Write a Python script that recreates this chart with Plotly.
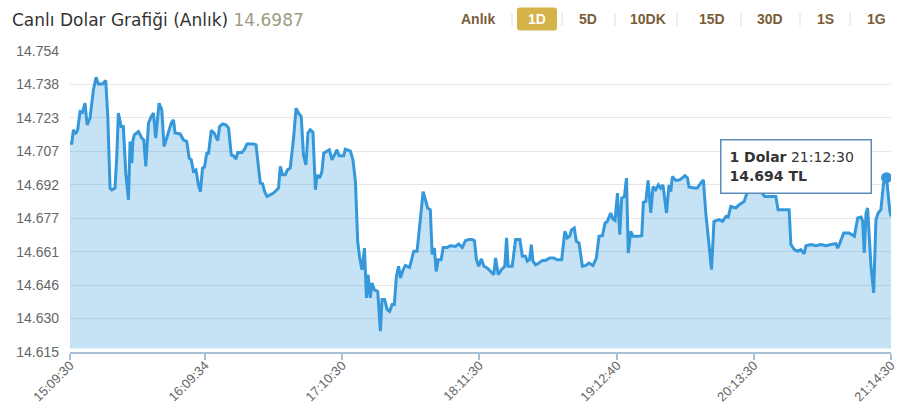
import pandas as pd
import plotly.graph_objects as go

TITLE = "Canlı Dolar Grafiği (Anlık)"
LAST_PRICE = "14.6987"
RANGE_BUTTONS = ["Anlık", "1D", "5D", "10DK", "15D", "30D", "1S", "1G"]
ACTIVE_BUTTON = "1D"

DAY = "2022-01-10"
START = DAY + " 15:09:30"

# minutes after 15:09:30
MINUTES = [
    0, 0.8, 1.5, 2.5, 3.4, 4.5, 5.5, 6.7, 7.6, 8.9,
    10.4, 11.6, 12.6, 14.4, 15.9, 16.8, 17.8, 18.6, 20.0, 20.8,
    21.5, 22.7, 23.7, 24.8, 26.0, 26.7, 27.5, 27.9, 28.6, 30.4,
    31.9, 32.8, 33.7, 34.9, 36.1, 37.1, 38.1, 39.6, 40.8, 41.8,
    43.0, 45.0, 46.0, 46.7, 49.0, 50.4, 51.9, 53.0, 53.9, 54.9,
    56.0, 57.1, 58.0, 58.9, 59.8, 60.8, 61.6, 62.8, 64.1, 65.3,
    65.7, 66.5, 67.8, 69.3, 70.5, 71.7, 72.7, 73.8, 74.6, 76.4,
    77.6, 78.7, 81.6, 82.7, 83.8, 84.6, 85.6, 86.5, 87.6, 89.0,
    90.5, 92.0, 92.7, 93.5, 94.5, 95.7, 96.7, 97.9, 98.7, 99.4,
    100.5, 101.6, 102.8, 103.8, 104.9, 105.8, 106.8, 108.0, 109.1, 109.8,
    111.0, 112.0, 112.8, 114.3, 115.3, 116.5, 117.5, 118.7, 119.6, 121.7,
    122.4, 124.6, 125.8, 126.9, 127.9, 128.8, 129.8, 130.9, 131.8, 132.5,
    133.5, 134.3, 135.3, 136.8, 138.0, 138.7, 139.9, 141.0, 142.1, 143.2,
    144.2, 145.1, 146.1, 146.9, 148.1, 149.1, 151.0, 152.1, 152.8, 154.3,
    155.3, 156.1, 157.0, 158.0, 159.0, 160.2, 161.0, 162.0, 162.8, 163.7,
    165.0, 165.9, 167.7, 169.1, 171.4, 172.8, 174.4, 175.8, 177.3, 178.8,
    179.8, 180.7, 181.7, 182.9, 184.0, 185.5, 187.0, 188.4, 189.2, 190.4,
    191.8, 193.3, 194.1, 194.8, 196.6, 198.1, 200.0, 201.1, 202.5, 203.3,
    204.3, 205.1, 205.8, 207.0, 208.5, 210.0, 211.4, 213.2, 215.1, 216.6,
    218.6, 220.0, 221.1, 222.1, 223.0, 224.2, 225.1, 226.3, 227.8, 229.2,
    230.7, 232.5, 234.0, 235.2, 236.7, 237.9, 238.9, 240.4, 241.4, 242.3,
    243.4, 244.4, 245.3, 246.5, 247.4, 248.2, 249.3, 250.3, 252.3, 254.2,
    254.9, 256.0, 257.0, 258.2, 259.2, 260.4, 261.6, 262.6, 263.6, 265.2,
    266.3, 267.1, 267.8, 269.3, 271.1, 273.4, 274.5, 275.2, 277.5, 278.9,
    280.4, 281.6, 282.6, 284.1, 285.2, 286.3, 288.6, 290.1, 291.6, 292.6,
    293.8, 296.0, 297.5, 299.7, 301.2, 304.2, 307.1, 308.9, 313.8, 314.8,
    319.7, 320.5, 322.0, 323.5, 324.9, 326.4, 327.2, 329.4, 331.6, 333.8,
    336.1, 338.3, 340.5, 341.3, 342.0, 344.0, 346.4, 348.7, 350.2, 351.7,
    352.4, 353.1, 353.9, 354.6, 356.1, 357.3, 358.3, 359.3, 360.5, 361.7,
    363.0, 364.5, 365.0,
]

RATES = [
    14.7114, 14.7114, 14.7176, 14.7157, 14.7176, 14.7260, 14.7256, 14.7299, 14.7199, 14.7230,
    14.7360, 14.7419, 14.7388, 14.7388, 14.7403, 14.7237, 14.6907, 14.6899, 14.6907, 14.7053,
    14.7253, 14.7191, 14.7191, 14.6976, 14.6853, 14.7122, 14.7022, 14.7122, 14.7153, 14.7168,
    14.7138, 14.7130, 14.7007, 14.7207, 14.7237, 14.7253, 14.7138, 14.7299, 14.7268, 14.7099,
    14.7138, 14.7207, 14.7222, 14.7161, 14.7157, 14.7130, 14.7122, 14.7045, 14.7037, 14.6984,
    14.6991, 14.6922, 14.6891, 14.6999, 14.7004, 14.7068, 14.7068, 14.7173, 14.7161, 14.7130,
    14.7126, 14.7191, 14.7203, 14.7199, 14.7184, 14.7060, 14.7056, 14.7041, 14.7071, 14.7071,
    14.7087, 14.7111, 14.7111, 14.7107, 14.6999, 14.6930, 14.6927, 14.6891, 14.6868, 14.6876,
    14.6884, 14.6899, 14.6907, 14.7007, 14.6968, 14.6968, 14.6991, 14.6999, 14.7068, 14.7138,
    14.7276, 14.7253, 14.7237, 14.7060, 14.7014, 14.7161, 14.7176, 14.7165, 14.6899, 14.6968,
    14.6953, 14.6984, 14.7068, 14.7076, 14.7084, 14.7037, 14.7060, 14.7084, 14.7056, 14.7056,
    14.7087, 14.7079, 14.7037, 14.6937, 14.6661, 14.6584, 14.6530, 14.6630, 14.6400, 14.6507,
    14.6400, 14.6469, 14.6438, 14.6430, 14.6246, 14.6392, 14.6392, 14.6346, 14.6338, 14.6369,
    14.6369, 14.6499, 14.6546, 14.6492, 14.6530, 14.6550, 14.6541, 14.6584, 14.6615, 14.6615,
    14.6707, 14.6807, 14.6891, 14.6853, 14.6815, 14.6807, 14.6600, 14.6630, 14.6522, 14.6576,
    14.6576, 14.6633, 14.6633, 14.6641, 14.6638, 14.6649, 14.6633, 14.6664, 14.6669, 14.6669,
    14.6664, 14.6576, 14.6546, 14.6580, 14.6546, 14.6538, 14.6522, 14.6507, 14.6584, 14.6507,
    14.6530, 14.6546, 14.6677, 14.6546, 14.6546, 14.6669, 14.6669, 14.6592, 14.6592, 14.6569,
    14.6576, 14.6646, 14.6569, 14.6553, 14.6561, 14.6573, 14.6573, 14.6584, 14.6584, 14.6576,
    14.6576, 14.6707, 14.6677, 14.6684, 14.6715, 14.6723, 14.6661, 14.6653, 14.6546, 14.6549,
    14.6561, 14.6549, 14.6584, 14.6684, 14.6687, 14.6746, 14.6753, 14.6792, 14.6764, 14.6758,
    14.6884, 14.6692, 14.6861, 14.6868, 14.6953, 14.6607, 14.6707, 14.6684, 14.6684, 14.6687,
    14.6841, 14.6845, 14.6942, 14.6792, 14.6914, 14.6899, 14.6922, 14.6907, 14.6922, 14.6792,
    14.6922, 14.6891, 14.6960, 14.6942, 14.6945, 14.6964, 14.6953, 14.6912, 14.6907, 14.6907,
    14.6930, 14.6945, 14.6799, 14.6653, 14.6530, 14.6753, 14.6761, 14.6753, 14.6776, 14.6773,
    14.6822, 14.6815, 14.6830, 14.6845, 14.6891, 14.6895, 14.6891, 14.6868, 14.6868, 14.6807,
    14.6807, 14.6646, 14.6623, 14.6615, 14.6623, 14.6604, 14.6641, 14.6646, 14.6641, 14.6646,
    14.6641, 14.6646, 14.6650, 14.6630, 14.6646, 14.6700, 14.6700, 14.6684, 14.6769, 14.6773,
    14.6753, 14.6607, 14.6792, 14.6815, 14.6546, 14.6423, 14.6761, 14.6792, 14.6807, 14.6930,
    14.6955, 14.6799, 14.6776,
]

X_TICKS = ["15:09:30", "16:09:34", "17:10:30", "18:11:30", "19:12:40", "20:13:30", "21:14:30"]
Y_TICKS = ["14.615", "14.630", "14.646", "14.661", "14.677",
           "14.692", "14.707", "14.723", "14.738", "14.754"]
Y_MIN, Y_MAX = 14.615, 14.754

HOVER_MINUTE = 363.0
HOVER_TIME = "21:12:30"
HOVER_LABEL = "14.694"

LINE = "#3498db"
FILL = "rgba(52,152,219,0.28)"
GOLD = "#d5b348"
BROWN = "#7b5d38"

# page geometry (px)
W, H = 900, 416
L, R, T, B = 70, 9, 51, 64
PW, PH = W - L - R, H - T - B


def px(x):
    return (x - L) / PW


def py(y):
    return (H - B - y) / PH


def rounded_rect(x0, y0, x1, y1, r):
    rx, ry = r / PW, r / PH
    a0, a1, b0, b1 = px(x0), px(x1), py(y1), py(y0)
    return (f"M{a0 + rx},{b0} L{a1 - rx},{b0} Q{a1},{b0} {a1},{b0 + ry} "
            f"L{a1},{b1 - ry} Q{a1},{b1} {a1 - rx},{b1} L{a0 + rx},{b1} "
            f"Q{a0},{b1} {a0},{b1 - ry} L{a0},{b0 + ry} Q{a0},{b0} {a0 + rx},{b0} Z")


times = pd.Timestamp(START) + pd.to_timedelta(MINUTES, unit="min")
end = pd.Timestamp(START) + pd.Timedelta(minutes=365)
floor = Y_MIN + (Y_MAX - Y_MIN) * 3.5 / PH  # small white strip above axis line
hover_idx = MINUTES.index(HOVER_MINUTE)

fig = go.Figure()
fig.add_trace(go.Scatter(x=[times[0], times[-1]], y=[floor, floor], mode="lines",
                         line=dict(width=0), showlegend=False, hoverinfo="skip"))
fig.add_trace(go.Scatter(x=times, y=RATES, mode="lines", fill="tonexty", fillcolor=FILL,
                         line=dict(color=LINE, width=3), showlegend=False))
fig.add_trace(go.Scatter(x=[times[hover_idx]], y=[RATES[hover_idx]], mode="markers",
                         marker=dict(color=LINE, size=11), showlegend=False))

shapes = [dict(type="path", xref="paper", yref="paper", path=rounded_rect(517, 7.5, 557, 30.5, 3),
               fillcolor=GOLD, line=dict(width=0), layer="above")]
for sx in [512, 562, 615, 677, 741, 800, 850]:
    shapes.append(dict(type="line", xref="paper", yref="paper", x0=px(sx), x1=px(sx),
                       y0=py(13), y1=py(26), line=dict(color="#dddddd", width=1)))

annotations = [dict(
    xref="paper", yref="paper", x=px(10), y=py(20), xanchor="left", yanchor="middle",
    showarrow=False,
    text=f"{TITLE} <span style='color:#9c9d7f'>{LAST_PRICE}</span>",
    font=dict(family="DejaVu Sans", size=17, color="#333333"),
)]
for label, cx in zip(RANGE_BUTTONS, [478, 537, 588, 648, 712, 770, 825, 876]):
    annotations.append(dict(
        xref="paper", yref="paper", x=px(cx), y=py(19), xanchor="center", yanchor="middle",
        showarrow=False, text=f"<b>{label}</b>",
        font=dict(family="Liberation Sans", size=14,
                  color="white" if label == ACTIVE_BUTTON else BROWN),
    ))
annotations.append(dict(
    xref="paper", yref="paper", x=px(720), y=py(139), xanchor="left", yanchor="top",
    showarrow=False, align="left", width=133, height=36, borderpad=8,
    bgcolor="white", bordercolor="#5a8cba", borderwidth=1.5,
    text=f"<b>1 Dolar</b> {HOVER_TIME}<br><b>{HOVER_LABEL} TL</b>",
    font=dict(family="DejaVu Sans", size=14, color="#333333"),
))

fig.update_layout(
    width=W, height=H,
    margin=dict(l=L, r=R, t=T, b=B, autoexpand=False),
    paper_bgcolor="white", plot_bgcolor="white",
    hovermode=False,
    shapes=shapes, annotations=annotations,
    xaxis=dict(
        type="date", range=[times[0], end], automargin=False,
        tickvals=[f"{DAY} {t}" for t in X_TICKS], ticktext=X_TICKS, tickangle=-45,
        showgrid=False, zeroline=False,
        showline=True, linecolor="#a9bfd3", linewidth=1.5,
        ticks="outside", ticklen=6, tickcolor="#a9bfd3", tickwidth=1.5,
        ticklabelstandoff=-7,
        tickfont=dict(family="Liberation Sans", size=13, color="#666666"),
    ),
    yaxis=dict(
        range=[Y_MIN, Y_MAX], automargin=False,
        tickvals=[Y_MIN + i * (Y_MAX - Y_MIN) / (len(Y_TICKS) - 1) for i in range(len(Y_TICKS))],
        ticktext=Y_TICKS,
        showgrid=True, gridcolor="#e6e6e6", gridwidth=1, zeroline=False, showline=False,
        ticklabelstandoff=10,
        tickfont=dict(family="Liberation Sans", size=14, color="#666666"),
    ),
)

# the page's default 8px body margin would push the figure off the window
fig.write_html("out.html", config={"displayModeBar": False},
               post_script="document.body.style.margin = '0';")
